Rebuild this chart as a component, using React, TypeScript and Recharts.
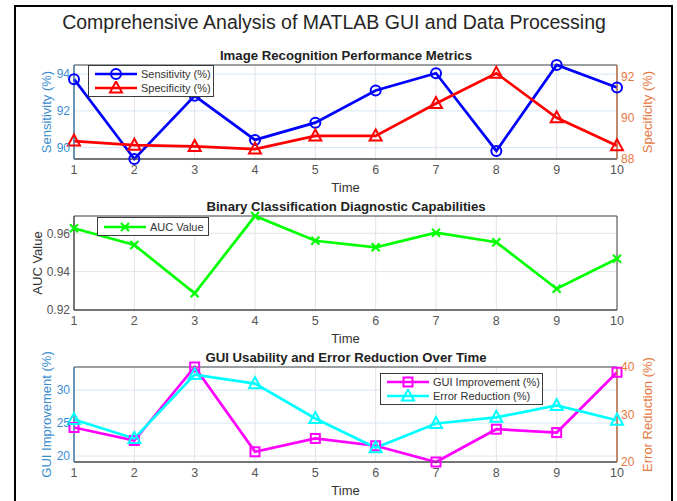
import React from 'react';
import { LineChart, Line, XAxis, YAxis, CartesianGrid, ReferenceArea } from 'recharts';

const timeSteps = [1, 2, 3, 4, 5, 6, 7, 8, 9, 10];
const sensitivity = [93.73, 89.38, 92.82, 90.42, 91.36, 93.11, 94.05, 89.82, 94.5, 93.27];
const specificity = [88.87, 88.67, 88.61, 88.48, 89.12, 89.12, 90.69, 92.16, 90.0, 88.64];
const aucValues = [0.9626, 0.9539, 0.9287, 0.969, 0.9561, 0.9527, 0.9603, 0.9553, 0.9311, 0.9467];
const guiImprovement = [24.33, 22.36, 33.5, 20.65, 22.67, 21.56, 19.1, 24.07, 23.56, 32.7];
const errorReduction = [28.95, 24.95, 38.4, 36.5, 29.16, 23.0, 28.1, 29.4, 31.9, 28.8];

const sensTicks = [90, 92, 94];
const specTicks = [88, 90, 92];
const aucTicks = [0.92, 0.94, 0.96];
const guiTicks = [20, 25, 30];
const errTicks = [20, 30, 40];

const SENS_DOMAIN = [89.38, 94.5];
const SPEC_DOMAIN = [88, 92.56];
const AUC_DOMAIN = [0.92, 0.969];
const GUI_DOMAIN = [19.1, 33.5];
const ERR_DOMAIN = [20, 40];

const perfData = timeSteps.map((t, i) => ({ t, sensitivity: sensitivity[i], specificity: specificity[i] }));
const aucData = timeSteps.map((t, i) => ({ t, auc: aucValues[i] }));
const guiData = timeSteps.map((t, i) => ({ t, gui: guiImprovement[i], err: errorReduction[i] }));

const FONT = '"Liberation Sans", Arial, Helvetica, sans-serif';
const LEFT_BLUE = '#3b8ed0';
const RIGHT_ORANGE = '#e5783f';
const AXIS_GRAY = '#4a4a4a';
const TICK_GRAY = '#555555';
const HGRID_BLUE = '#d8e6f3';
const GRID_GRAY = '#e3e3e3';

type Shape = 'circle' | 'triangle' | 'x' | 'square';

function Marker({ shape, cx, cy, color }: { shape: Shape; cx: number; cy: number; color: string }) {
  if (shape === 'circle') {
    return <circle cx={cx} cy={cy} r={5} fill="none" stroke={color} strokeWidth={2} />;
  }
  if (shape === 'triangle') {
    const pts = `${cx},${cy - 6.5} ${cx - 6},${cy + 4.5} ${cx + 6},${cy + 4.5}`;
    return <polygon points={pts} fill="none" stroke={color} strokeWidth={2} strokeLinejoin="miter" />;
  }
  if (shape === 'square') {
    return <rect x={cx - 4.5} y={cy - 4.5} width={9} height={9} fill="none" stroke={color} strokeWidth={2} />;
  }
  return (
    <g stroke={color} strokeWidth={2.2}>
      <line x1={cx - 4} y1={cy - 4} x2={cx + 4} y2={cy + 4} />
      <line x1={cx - 4} y1={cy + 4} x2={cx + 4} y2={cy - 4} />
    </g>
  );
}

const makeDot = (shape: Shape, color: string) => (props: any) => {
  const { cx, cy, index } = props;
  if (cx == null || cy == null) return <g key={`d-${index}`} />;
  return <Marker key={`d-${index}`} shape={shape} cx={cx} cy={cy} color={color} />;
};

interface LegendEntry {
  label: string;
  color: string;
  shape: Shape;
}

function BoxLegend({ entries, left, top, width, height }: { entries: LegendEntry[]; left: number; top: number; width: number; height: number }) {
  return (
    <div
      style={{
        position: 'absolute',
        left,
        top,
        width,
        height,
        boxSizing: 'border-box',
        background: '#fff',
        border: '1px solid #3a3a3a',
        display: 'flex',
        flexDirection: 'column',
        justifyContent: 'center',
        paddingLeft: 5,
      }}
    >
      {entries.map((e) => (
        <div key={e.label} style={{ display: 'flex', alignItems: 'center', height: 14 }}>
          <svg width={44} height={14} style={{ flex: 'none' }}>
            <line x1={1} y1={7} x2={43} y2={7} stroke={e.color} strokeWidth={2.7} />
            <Marker shape={e.shape} cx={22} cy={7} color={e.color} />
          </svg>
          <span style={{ fontSize: 11, color: '#333', marginLeft: 3, whiteSpace: 'nowrap' }}>{e.label}</span>
        </div>
      ))}
    </div>
  );
}

const xTick = { fontSize: 12.5, fill: TICK_GRAY };
const timeLabel = { value: 'Time', position: 'insideBottom' as const, offset: 2, fontSize: 13, fill: '#333' };

export default function App() {
  return (
    <div style={{ position: 'absolute', left: 0, top: 0, width: 677, height: 501, overflow: 'hidden', background: '#fff', fontFamily: FONT }}>
      <svg width={677} height={501} style={{ position: 'absolute', left: 0, top: 0 }}>
        <rect x={15} y={6} width={657} height={520} fill="none" stroke="#000" strokeWidth={2} />
        <text x={334} y={29} textAnchor="middle" fontSize={19.5} fill="#262626">
          Comprehensive Analysis of MATLAB GUI and Data Processing
        </text>
        <text x={346} y={59.5} textAnchor="middle" fontSize={13.2} fontWeight="bold" fill="#222">
          Image Recognition Performance Metrics
        </text>
        <text x={346} y={210.5} textAnchor="middle" fontSize={13.2} fontWeight="bold" fill="#222">
          Binary Classification Diagnostic Capabilities
        </text>
        <text x={346} y={361.5} textAnchor="middle" fontSize={13.2} fontWeight="bold" fill="#222">
          GUI Usability and Error Reduction Over Time
        </text>
      </svg>

      {/* panel 1 */}
      <div style={{ position: 'absolute', left: 0, top: 40 }}>
        <LineChart width={677} height={160} data={perfData} margin={{ top: 25, right: 0, bottom: 6, left: 14 }}>
          <CartesianGrid yAxisId="left" vertical={false} stroke={HGRID_BLUE} />
          <CartesianGrid yAxisId="left" horizontal={false} stroke={GRID_GRAY} />
          <ReferenceArea yAxisId="left" x1={1} x2={10} y1={SENS_DOMAIN[0]} y2={SENS_DOMAIN[1]} fill="none" stroke={AXIS_GRAY} strokeWidth={1} />
          <XAxis dataKey="t" type="number" domain={[1, 10]} ticks={timeSteps} interval={0} tickLine={false} tickSize={4}
            axisLine={{ stroke: AXIS_GRAY }} tick={xTick} height={35} label={timeLabel} />
          <YAxis yAxisId="left" type="number" domain={SENS_DOMAIN} ticks={sensTicks} width={60} tickLine={false} tickSize={2}
            axisLine={{ stroke: LEFT_BLUE }} tick={{ fontSize: 12, fill: LEFT_BLUE }}
            label={{ value: 'Sensitivity (%)', angle: -90, position: 'insideLeft', offset: 32, fontSize: 13, fill: LEFT_BLUE, style: { textAnchor: 'middle' } }} />
          <YAxis yAxisId="right" orientation="right" type="number" domain={SPEC_DOMAIN} ticks={specTicks} width={60} tickLine={false} tickSize={2}
            axisLine={{ stroke: RIGHT_ORANGE }} tick={{ fontSize: 12, fill: RIGHT_ORANGE }}
            label={{ value: 'Specificity (%)', angle: -90, position: 'insideRight', offset: 30, fontSize: 13, fill: RIGHT_ORANGE, style: { textAnchor: 'middle' } }} />
          <Line yAxisId="left" dataKey="sensitivity" stroke="#0000ff" strokeWidth={2.7} dot={makeDot('circle', '#0000ff')} activeDot={false} isAnimationActive={false} />
          <Line yAxisId="right" dataKey="specificity" stroke="#ff0000" strokeWidth={2.7} dot={makeDot('triangle', '#ff0000')} activeDot={false} isAnimationActive={false} />
        </LineChart>
      </div>

      {/* panel 2 */}
      <div style={{ position: 'absolute', left: 0, top: 195 }}>
        <LineChart width={677} height={155} data={aucData} margin={{ top: 21, right: 60, bottom: 5, left: 14 }}>
          <CartesianGrid stroke={GRID_GRAY} />
          <ReferenceArea x1={1} x2={10} y1={AUC_DOMAIN[0]} y2={AUC_DOMAIN[1]} fill="none" stroke={AXIS_GRAY} strokeWidth={1} />
          <XAxis dataKey="t" type="number" domain={[1, 10]} ticks={timeSteps} interval={0} tickLine={false} tickSize={4}
            axisLine={{ stroke: AXIS_GRAY }} tick={xTick} height={35} label={timeLabel} />
          <YAxis type="number" domain={AUC_DOMAIN} ticks={aucTicks} width={60} tickLine={false} tickSize={2}
            axisLine={{ stroke: AXIS_GRAY }} tick={{ fontSize: 12, fill: TICK_GRAY }} tickFormatter={(v: number) => v.toFixed(2)}
            label={{ value: 'AUC Value', angle: -90, position: 'insideLeft', offset: 23, fontSize: 13, fill: '#333', style: { textAnchor: 'middle' } }} />
          <Line dataKey="auc" stroke="#00ff00" strokeWidth={2.7} dot={makeDot('x', '#00ff00')} activeDot={false} isAnimationActive={false} />
        </LineChart>
      </div>

      {/* panel 3 */}
      <div style={{ position: 'absolute', left: 0, top: 345 }}>
        <LineChart width={677} height={156} data={guiData} margin={{ top: 22, right: 0, bottom: 4, left: 14 }}>
          <CartesianGrid yAxisId="left" vertical={false} stroke={HGRID_BLUE} />
          <CartesianGrid yAxisId="left" horizontal={false} stroke={GRID_GRAY} />
          <ReferenceArea yAxisId="left" x1={1} x2={10} y1={GUI_DOMAIN[0]} y2={GUI_DOMAIN[1]} fill="none" stroke={AXIS_GRAY} strokeWidth={1} />
          <XAxis dataKey="t" type="number" domain={[1, 10]} ticks={timeSteps} interval={0} tickLine={false} tickSize={4}
            axisLine={{ stroke: AXIS_GRAY }} tick={xTick} height={35} label={timeLabel} />
          <YAxis yAxisId="left" type="number" domain={GUI_DOMAIN} ticks={guiTicks} width={60} tickLine={false} tickSize={2}
            axisLine={{ stroke: LEFT_BLUE }} tick={{ fontSize: 12, fill: LEFT_BLUE }}
            label={{ value: 'GUI Improvement (%)', angle: -90, position: 'insideLeft', offset: 32, fontSize: 13, fill: LEFT_BLUE, style: { textAnchor: 'middle' } }} />
          <YAxis yAxisId="right" orientation="right" type="number" domain={ERR_DOMAIN} ticks={errTicks} width={60} tickLine={false} tickSize={2}
            axisLine={{ stroke: RIGHT_ORANGE }} tick={{ fontSize: 12, fill: RIGHT_ORANGE }}
            label={{ value: 'Error Reduction (%)', angle: -90, position: 'insideRight', offset: 30, fontSize: 13, fill: RIGHT_ORANGE, style: { textAnchor: 'middle' } }} />
          <Line yAxisId="left" dataKey="gui" stroke="#ff00ff" strokeWidth={2.7} dot={makeDot('square', '#ff00ff')} activeDot={false} isAnimationActive={false} />
          <Line yAxisId="right" dataKey="err" stroke="#00ffff" strokeWidth={2.7} dot={makeDot('triangle', '#00ffff')} activeDot={false} isAnimationActive={false} />
        </LineChart>
      </div>

      <BoxLegend
        left={88}
        top={65}
        width={126}
        height={32}
        entries={[
          { label: 'Sensitivity (%)', color: '#0000ff', shape: 'circle' },
          { label: 'Specificity (%)', color: '#ff0000', shape: 'triangle' },
        ]}
      />
      <BoxLegend left={97} top={217} width={112} height={19} entries={[{ label: 'AUC Value', color: '#00ff00', shape: 'x' }]} />
      <BoxLegend
        left={380}
        top={373}
        width={163}
        height={32}
        entries={[
          { label: 'GUI Improvement (%)', color: '#ff00ff', shape: 'square' },
          { label: 'Error Reduction (%)', color: '#00ffff', shape: 'triangle' },
        ]}
      />
    </div>
  );
}
